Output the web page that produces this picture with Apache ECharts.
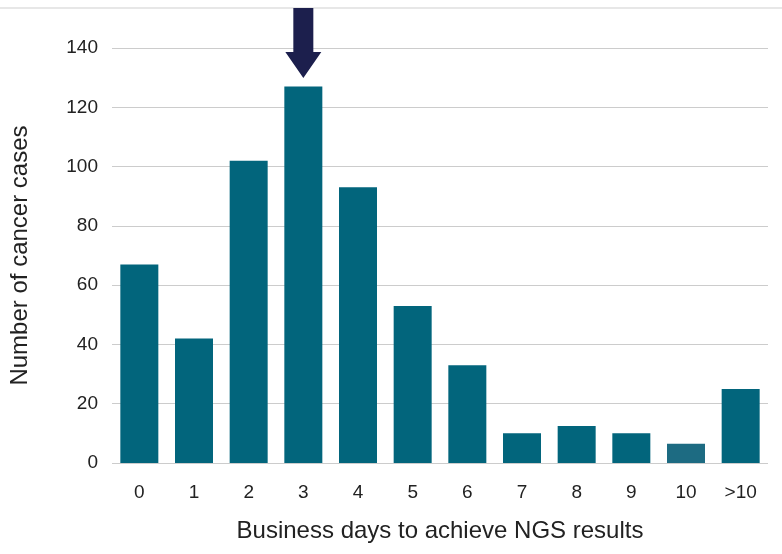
<!DOCTYPE html>
<html>
<head>
<meta charset="utf-8">
<script src="https://cdn.jsdelivr.net/npm/echarts@6/dist/echarts.min.js"></script>
<style>html,body{margin:0;background:#fff}#chart{width:782px;height:554px}</style>
</head>
<body>
<div id="chart"></div>
<script>
// days to NGS result vs number of cases
var categories = ['0', '1', '2', '3', '4', '5', '6', '7', '8', '9', '10', '>10'];
var cases = [67, 42, 102, 127, 93, 53, 33, 10, 12.5, 10, 6.5, 25];
var yTicks = { min: 0, max: 140, step: 20 };
var arrowAt = ['3', 141.7];

var font = 'Liberation Sans';
var chart = echarts.init(document.getElementById('chart'));

chart.setOption({
    animation: false,
    textStyle: { fontFamily: font },
    graphic: [{
        type: 'line',
        shape: { x1: 0, y1: 8, x2: 782, y2: 8 },
        style: { stroke: '#cfcfcf', lineWidth: 1 }
    }],
    grid: { left: 112, right: 14, top: 48, bottom: 91 },
    xAxis: {
        type: 'category',
        data: categories,
        axisLine: { show: false },
        axisTick: { show: false },
        axisLabel: { fontSize: 19, color: '#222', margin: 20 },
        name: 'Business days to achieve NGS results',
        nameLocation: 'middle',
        nameGap: 56,
        nameTextStyle: { fontSize: 24, color: '#222' }
    },
    yAxis: {
        type: 'value',
        min: yTicks.min,
        max: yTicks.max,
        interval: yTicks.step,
        axisLabel: { fontSize: 19, color: '#222', margin: 14 },
        splitLine: { lineStyle: { color: '#cccccc' } },
        name: 'Number of cancer cases',
        nameLocation: 'middle',
        nameGap: 80,
        nameTextStyle: { fontSize: 24, color: '#222' }
    },
    series: [{
        type: 'bar',
        data: cases,
        barWidth: 38,
        itemStyle: {
            color: function (p) { return p.dataIndex === 10 ? '#1d6b82' : '#02657c'; }
        }
    }, {
        type: 'scatter',
        clip: false,
        silent: true,
        symbol: 'path://M8,0 H28 V44 H36 L18,70 L0,44 H8 Z',
        symbolSize: [36, 70],
        itemStyle: { color: '#1c1f4d', opacity: 1 },
        data: [arrowAt]
    }]
});
</script>
</body>
</html>
